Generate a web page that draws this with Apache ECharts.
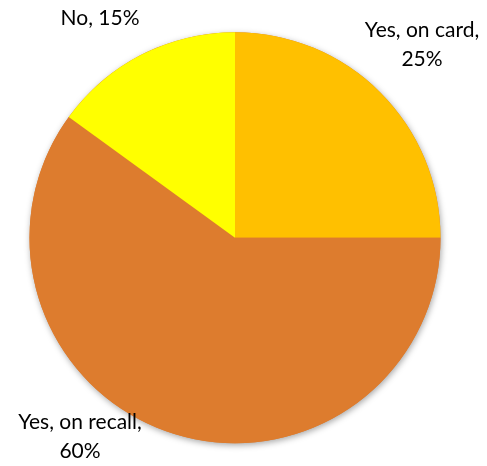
<!DOCTYPE html>
<html>
<head>
<meta charset="utf-8">
<script src="https://cdn.jsdelivr.net/npm/echarts@6/dist/echarts.min.js"></script>
<style>
html,body{margin:0;padding:0;background:#fff;}
#chart{width:487px;height:466px;}
</style>
</head>
<body>
<div id="chart"></div>
<script>
const categories = ['Yes, on card', 'Yes, on recall', 'No'];
const values = [25, 60, 15];
const colors = ['#FFC000', '#DD7C2E', '#FFFF00'];
const labelWrap = [true, true, false];
const labelPos = [[422, 45], [80, 437], [100, 18]];

const total = values.reduce((a, b) => a + b, 0);
const center = [235, 237.7];
const radius = 205.5;

const chart = echarts.init(document.getElementById('chart'), null, {renderer: 'canvas'});
chart.setOption({
  animation: false,
  backgroundColor: '#fff',
  series: [{
    type: 'pie',
    silent: true,
    z: 1,
    center: center,
    radius: radius,
    label: {show: false},
    labelLine: {show: false},
    data: [{value: total, itemStyle: {
      color: '#DD7C2E',
      shadowBlur: 6,
      shadowOffsetX: 1,
      shadowOffsetY: 2,
      shadowColor: 'rgba(0,0,0,0.35)'
    }}],
    emphasis: {disabled: true}
  }, {
    type: 'pie',
    z: 2,
    center: center,
    radius: radius,
    startAngle: 90,
    clockwise: true,
    avoidLabelOverlap: false,
    data: categories.map((c, i) => ({
      name: c, value: values[i],
      itemStyle: {color: colors[i]}
    })),
    itemStyle: {borderWidth: 0},
    label: {
      show: true,
      position: 'outside',
      color: '#000',
      fontFamily: 'Lato',
      fontSize: 21,
      lineHeight: 29,
      align: 'center',
      formatter: p => p.name + ',' + (labelWrap[p.dataIndex] ? '\n' : ' ') + p.value + '%'
    },
    labelLine: {show: false},
    labelLayout: p => ({
      x: labelPos[p.dataIndex][0],
      y: labelPos[p.dataIndex][1],
      align: 'center',
      verticalAlign: 'middle'
    }),
    emphasis: {disabled: true}
  }]
});
</script>
</body>
</html>
